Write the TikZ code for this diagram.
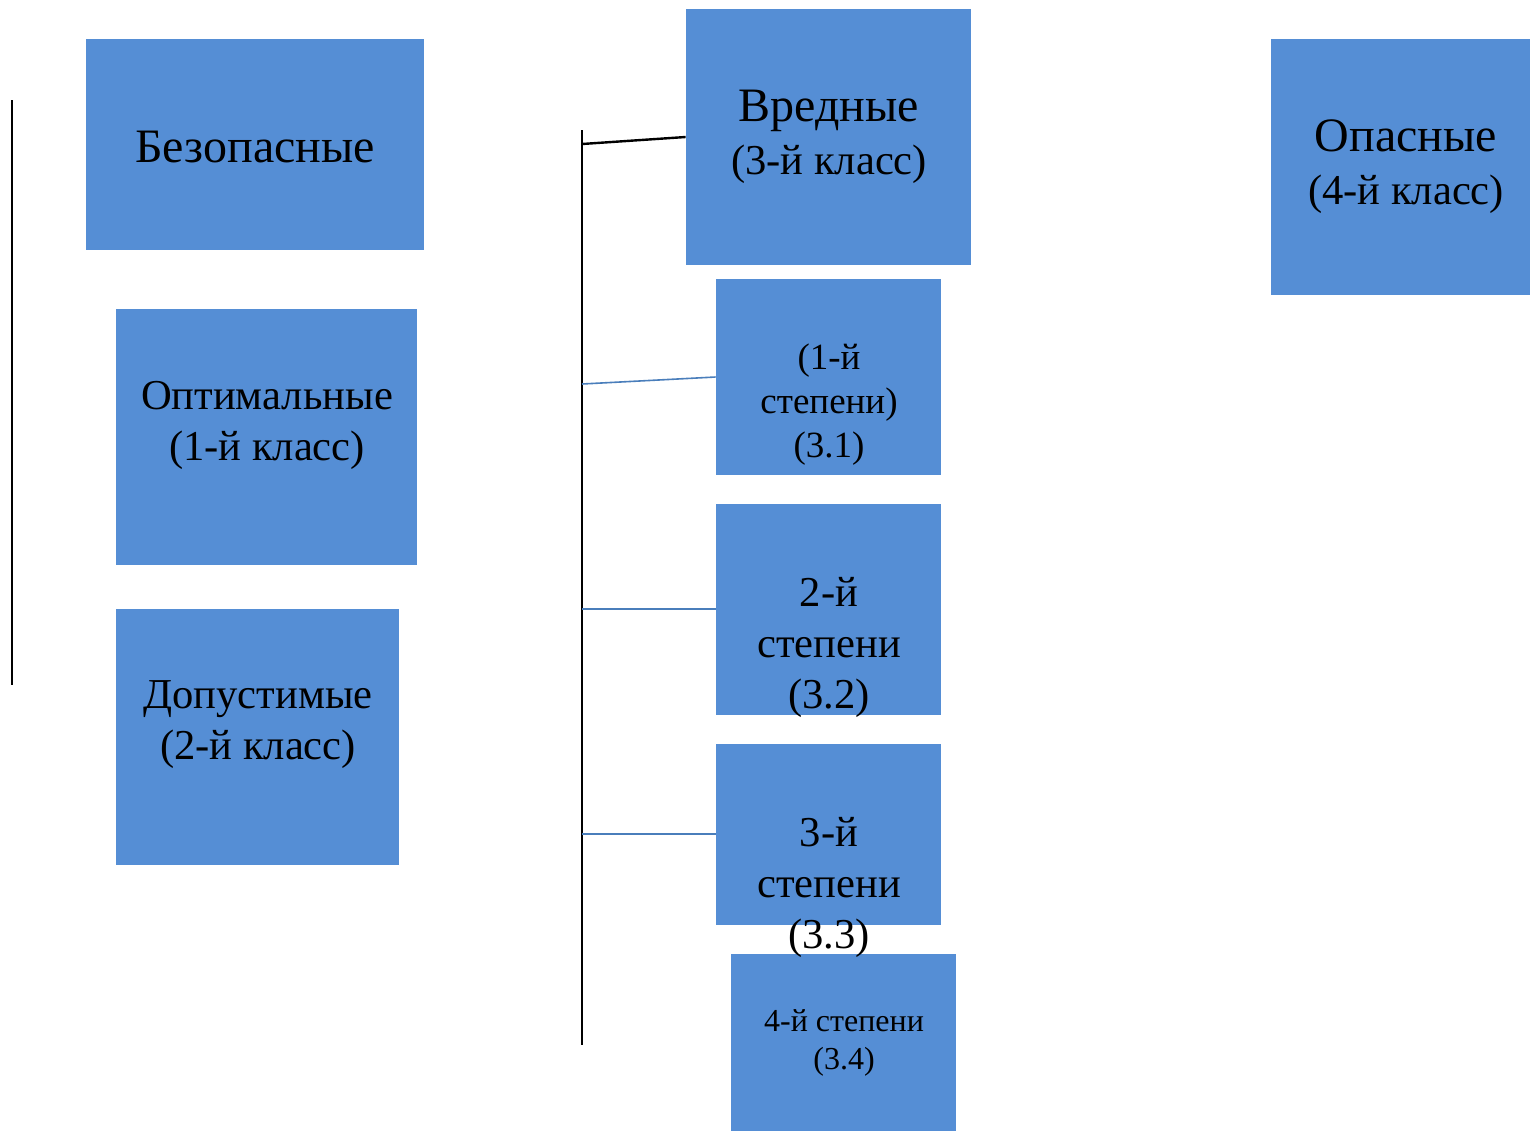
\documentclass[tikz,border=0pt]{standalone}
\usepackage{fontspec}
\setmainfont{Liberation Serif}
\usetikzlibrary{fit}
\definecolor{boxblue}{RGB}{85,142,213}
\definecolor{linkblue}{RGB}{74,126,187}
\begin{document}
\begin{tikzpicture}[x=0.5pt,y=-0.5pt,
  box/.style={fill=boxblue,draw=none,inner sep=0pt},
  bigtxt/.style={align=center,font=\fontsize{21.3}{25.5}\selectfont,inner sep=0pt},
  headtxt/.style={align=center,font=\fontsize{21.3}{26.5}\selectfont,inner sep=0pt},
  midtxt/.style={align=center,font=\fontsize{18.5}{22}\selectfont,inner sep=0pt},
  smalltxt/.style={align=center,font=\fontsize{16}{19}\selectfont,inner sep=0pt},
  blackline/.style={draw=black,line width=1.2pt},
  blueline/.style={draw=linkblue,line width=0.8pt}]
\useasboundingbox (0,0) rectangle (1530,1131);
% boxes
\node[box,fit={(86,39) (424,250)}] (bez) {};
\node[box,fit={(116,309) (417,565)}] (opt) {};
\node[box,fit={(116,609) (399,865)}] (dop) {};
\node[box,fit={(686,9) (971,265)}] (vr) {};
\node[box,fit={(1271,39) (1530,295)}] (opas) {};
\node[box,fit={(716,279) (941,475)}] (s1) {};
\node[box,fit={(716,504) (941,715)}] (s2) {};
\node[box,fit={(716,744) (941,925)}] (s3) {};
\node[box,fit={(731,954) (956,1131)}] (s4) {};
% texts
\node[headtxt,font=\fontsize{24}{26.5}\selectfont] (tbez) at (255,147) {Безопасные};
\node[bigtxt] (topt) at (267,425) {Оптимальные\\(1-й класс)};
\node[bigtxt] (tdop) at (258,725) {Допустимые\\(2-й класс)};
\node[headtxt] (tvr) at (829,137) {{\fontsize{24}{26.5}\selectfont Вредные}\\(3-й класс)};
\node[headtxt] (topas) at (1406,167) {{\fontsize{24}{26.5}\selectfont Опасные}\\(4-й класс)};
\node[midtxt] (ts1) at (829,405) {(1-й\\степени)\\(3.1)};
\node[bigtxt] (ts2) at (829,647) {2-й\\степени\\(3.2)};
\node[bigtxt] (ts3) at (829,887) {3-й\\степени\\(3.3)};
\node[smalltxt] (ts4) at (844,1043) {4-й степени\\(3.4)};
% lines
\coordinate (l1) at (12,100);
\coordinate (l2) at (12,685);
\draw[blackline] (l1) -- (l2);
\coordinate (v1) at (582,130);
\coordinate (v2) at (582,1045);
\draw[blackline] (v1) -- (v2);
\coordinate (j0) at (582,144);
\coordinate (j1) at (582,384);
\coordinate (j2) at (582,609);
\coordinate (j3) at (582,834);
\draw[blackline] (j0) -- (vr.west |- 0,137);
\draw[blueline] (j1) -- (s1.west |- 0,377);
\draw[blueline] (j2) -- (s2.west |- 0,609);
\draw[blueline] (j3) -- (s3.west |- 0,834);
\end{tikzpicture}
\end{document}
